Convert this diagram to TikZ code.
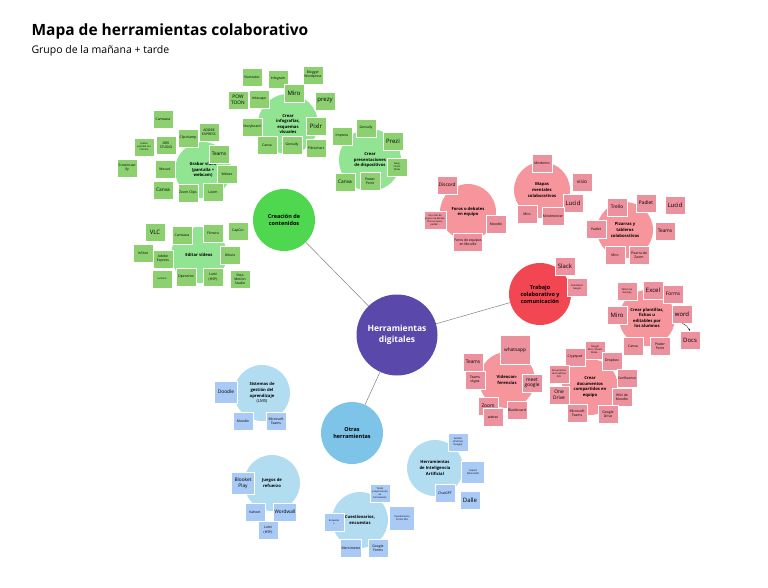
\documentclass[tikz,border=0pt]{standalone}
\usepackage{fontspec}
\setmainfont{Open Sans}
\usepackage{xcolor}
\usepackage{tikz}
\usetikzlibrary{positioning, arrows.meta}

\definecolor{hubc}{RGB}{90,72,170}
\definecolor{greencat}{RGB}{80,215,80}
\definecolor{greensub}{RGB}{145,228,145}
\definecolor{greennote}{RGB}{140,208,112}
\definecolor{redcat}{RGB}{242,70,82}
\definecolor{redsub}{RGB}{246,150,156}
\definecolor{rednote}{RGB}{236,145,158}
\definecolor{bluecat}{RGB}{125,196,232}
\definecolor{bluesub}{RGB}{178,221,240}
\definecolor{bluenote}{RGB}{168,202,244}

\begin{document}
\begin{tikzpicture}[
  x=1pt, y=-1pt,
  hub/.style={circle, fill=hubc, text=white, minimum size=81, inner sep=0,
              align=center, font=\fontsize{8.5}{11}\selectfont\bfseries},
  cat/.style={circle, fill=#1, minimum size=62, inner sep=0,
              align=center, font=\fontsize{5.5}{7}\selectfont\bfseries},
  sub/.style={circle, fill=#1, minimum size=56, inner sep=0,
              align=center, font=\fontsize{4.2}{5.6}\selectfont\bfseries},
  note/.style={draw=white, line width=0.4pt, rectangle, fill=#1, minimum width=20,
               minimum height=18, inner sep=1pt, align=center,
               font=\fontsize{3.4}{4.2}\selectfont},
  bnote/.style={note=#1, font=\fontsize{6}{7}\selectfont},
  mnote/.style={note=#1, font=\fontsize{4.8}{5.8}\selectfont},
  tnote/.style={note=#1, font=\fontsize{2.4}{3}\selectfont},
  link/.style={draw=gray, line width=0.5pt},
]
\useasboundingbox (0,0) rectangle (768,588);

%% Title
\node[anchor=west, font=\fontsize{15.5}{18}\selectfont\bfseries] (title) at (28,31)
  {Mapa de herramientas colaborativo};
\node[anchor=west, font=\fontsize{10.5}{12}\selectfont] (subtitle) at (28,51)
  {Grupo de la mañana + tarde};

%% Hub and categories
\node[hub] at (397,335) (hub) {Herramientas\\digitales};
\node[cat=greencat] at (284,220) (crea) {Creación de\\contenidos};
\node[cat=redcat]   at (540,294) (trab) {Trabajo\\colaborativo y\\comunicación};
\node[cat=bluecat]  at (352,433) (otras) {Otras\\herramientas};
\draw[link] (hub) -- (crea);
\draw[link] (hub) -- (trab);
\draw[link] (hub) -- (otras);

%% Crear infografias
\node[sub=greensub, minimum size=60] at (288,124) (info) {Crear\\infografías,\\esquemas\\visuales};
\node[note=greennote]  at (252,77)  (i1)  {Illustrator};
\node[note=greennote]  at (278,79)  (i2)  {Infogram};
\node[note=greennote]  at (313,75)  (i3)  {Blogger\\Wordpress};
\node[mnote=greennote] at (238,100) (i4)  {POW\\TOON};
\node[note=greennote]  at (259,99)  (i5)  {Inkscape};
\node[bnote=greennote] at (294,93)  (i6)  {Miro};
\node[bnote=greennote] at (325,101) (i7)  {prezy};
\node[note=greennote]  at (252,127) (i8)  {Storyboard};
\node[bnote=greennote] at (316,126) (i9)  {Pixlr};
\node[note=greennote]  at (267,145) (i10) {Canva};
\node[note=greennote]  at (292,145) (i11) {Genially};
\node[note=greennote]  at (316,148) (i12) {Piktochart};

%% Crear presentaciones
\node[sub=greensub, minimum size=62] at (370,160) (pres) {Crear\\presentaciones\\de dispositivos};
\node[note=greennote]  at (342,136) (p1) {Impress};
\node[note=greennote]  at (366,128) (p2) {Genially};
\node[bnote=greennote] at (393,141) (p3) {Prezi};
\node[tnote=greennote] at (397,167) (p4) {Sway\\Visme\\Slides};
\node[mnote=greennote] at (345,182) (p5) {Canva};
\node[note=greennote]  at (370,181) (p6) {Power\\Point};

%% Grabar video
\node[sub=greensub] at (203,170) (grab) {Grabar vídeo\\(pantalla +\\webcam)};
\node[note=greennote]  at (163,119) (g1)  {Camtasia};
\node[note=greennote]  at (209,132) (g2)  {ADOBE\\EXPRESS};
\node[note=greennote]  at (188,138) (g3)  {Clipchamp};
\node[note=greennote]  at (166,145) (g4)  {OBS\\STUDIO};
\node[tnote=greennote] at (144,147) (g5)  {Grabar\\pantalla con\\Chrome};
\node[note=greennote]  at (127,168) (g6)  {Screencast\\ify};
\node[note=greennote]  at (165,169) (g7)  {Movavi};
\node[mnote=greennote] at (219,154) (g8)  {Teams};
\node[note=greennote]  at (227,174) (g9)  {Webex};
\node[mnote=greennote] at (163,190) (g10) {Canva};
\node[note=greennote]  at (188,193) (g11) {Zoom Clips};
\node[note=greennote]  at (213,192) (g12) {Loom};

%% Editar videos
\node[sub=greensub] at (199,255) (edit) {Editar vídeos};
\node[bnote=greennote] at (155,232) (e1)  {VLC};
\node[note=greennote]  at (182,235) (e2)  {Camtasia};
\node[note=greennote]  at (213,233) (e3)  {Filmora};
\node[note=greennote]  at (238,231) (e4)  {CapCut};
\node[note=greennote]  at (143,253) (e5)  {InShot};
\node[note=greennote]  at (163,259) (e6)  {Adobe\\Express};
\node[note=greennote]  at (230,255) (e7)  {iMovie};
\node[tnote=greennote] at (162,279) (e8)  {Lumen5};
\node[note=greennote]  at (186,277) (e9)  {Openshot};
\node[note=greennote]  at (213,277) (e10) {Lumi\\(H5P)};
\node[note=greennote]  at (240,279) (e11) {Stop\\Motion\\Studio};

%% Foros
\node[sub=redsub] at (468,212) (foro) {Foros o debates\\en equipo};
\node[mnote=rednote] at (447,185) (f1) {Discord};
\node[tnote=rednote] at (435,220) (f2) {Uso chat de\\grupos de debate,\\foros propios,\\padlet...};
\node[note=rednote]  at (496,224) (f3) {Moodle};
\node[note=rednote]  at (468,242) (f4) {Foros de equipos\\en Moodle};

%% Mapas mentales
\node[sub=redsub] at (542,190) (mapa) {Mapas\\mentales\\colaborativos};
\node[note=rednote]  at (542,163) (m1) {Mindomo};
\node[mnote=rednote] at (582,182) (m2) {visio};
\node[bnote=rednote] at (573,203) (m3) {Lucid};
\node[note=rednote]  at (527,214) (m4) {Miro};
\node[note=rednote]  at (553,216) (m5) {Mindmeister};

%% Pizarras
\node[sub=redsub] at (625,230) (piza) {Pizarras y\\tableros\\colaborativos};
\node[mnote=rednote] at (617,207) (z1) {Trello};
\node[mnote=rednote] at (646,203) (z2) {Padlet};
\node[bnote=rednote] at (675,205) (z3) {Lucid};
\node[note=rednote]  at (596,229) (z4) {Padlet};
\node[mnote=rednote] at (665,231) (z5) {Teams};
\node[note=rednote]  at (615,255) (z6) {Miro};
\node[note=rednote]  at (639,255) (z7) {Pizarra de\\Zoom};

%% Trabajo notes
\node[bnote=rednote] at (565,266) (t1) {Slack};
\node[tnote=rednote] at (577,287) (t2) {Calendario\\Google};

%% Plantillas
\node[sub=redsub] at (647,318) (plan) {Crear plantillas,\\fichas u\\editables por\\los alumnos};
\node[tnote=rednote] at (627,291) (pl1) {Wizer.me\\Genially};
\node[bnote=rednote] at (653,290) (pl2) {Excel};
\node[mnote=rednote] at (673,294) (pl3) {Forms};
\node[bnote=rednote] at (617,315) (pl4) {Miro};
\node[bnote=rednote] at (682,314) (pl5) {word};
\node[bnote=rednote] at (690,340) (pl6) {Docs};
\node[note=rednote]  at (633,346) (pl7) {Canva};
\node[note=rednote]  at (660,346) (pl8) {Power\\Point};
\draw[-{Stealth[length=2pt]}, line width=0.3pt] (pl5.south) to[bend left=20] (pl6.north);

%% Videoconferencias
\node[sub=redsub] at (507,380) (vide) {Videocon-\\ferencias};
\node[mnote=rednote, minimum width=30, minimum height=29] at (515,350) (v1) {whatsapp};
\node[mnote=rednote] at (473,362) (v2) {Teams};
\node[note=rednote]  at (475,380) (v3) {Teams\\skype};
\node[mnote=rednote] at (532,383) (v4) {meet\\google};
\node[mnote=rednote] at (488,406) (v5) {Zoom};
\node[note=rednote]  at (493,417) (v6) {webex};
\node[note=rednote]  at (517,410) (v7) {Blackboard};

%% Documentos compartidos
\node[sub=redsub] at (590,387) (docu) {Crear\\documentos\\compartidos en\\equipo};
\node[tnote=rednote] at (595,350) (d1) {Google\\Docs, Sheets\\Slides...};
\node[note=rednote]  at (575,357) (d2) {Cryptpad};
\node[note=rednote]  at (612,361) (d3) {Dropbox};
\node[tnote=rednote] at (559,374) (d4) {Documentos\\de OneDrive\\365};
\node[note=rednote]  at (627,378) (d5) {Confluence};
\node[mnote=rednote] at (559,395) (d6) {One\\Drive};
\node[note=rednote]  at (622,397) (d7) {Wiki de\\Moodle};
\node[note=rednote]  at (577,413) (d8) {Microsoft\\Teams};
\node[note=rednote]  at (608,414) (d9) {Google\\Drive};

%% LMS
\node[sub=bluesub] at (262,393) (lms) {Sistemas de\\gestión del\\aprendizaje\\{\mdseries(LMS)}};
\node[mnote=bluenote, minimum width=23, minimum height=22] at (226,392) (l1) {Doodle};
\node[note=bluenote] at (243,421) (l2) {Moodle};
\node[note=bluenote] at (276,421) (l3) {Microsoft\\Teams};

%% Juegos
\node[sub=bluesub] at (272,483) (jueg) {Juegos de\\refuerzo};
\node[mnote=bluenote, minimum width=23, minimum height=22] at (243,483) (j1) {Blooket\\Play};
\node[note=bluenote]  at (255,512) (j2) {Kahoot};
\node[mnote=bluenote] at (285,512) (j3) {Wordwall};
\node[note=bluenote]  at (268,530) (j4) {Lumi\\(H5P)};

%% Cuestionarios
\node[sub=bluesub] at (360,520) (cues) {Cuestionarios,\\encuestas};
\node[tnote=bluenote] at (380,493) (c1) {Todos\\proporcionan\\en\\formularios};
\node[tnote=bluenote] at (334,522) (c2) {Encuesta\\s};
\node[tnote=bluenote, minimum width=25, minimum height=24] at (402,518) (c3) {Cuestionarios\\Forms 365};
\node[note=bluenote]  at (351,548) (c4) {Mentimeter};
\node[note=bluenote]  at (378,548) (c5) {Google\\Forms};

%% Inteligencia artificial
\node[sub=bluesub] at (435,468) (ia) {Herramientas\\de Inteligencia\\Artificial};
\node[tnote=bluenote] at (458,442) (a1) {Gemini\\(Android,\\Google)};
\node[tnote=bluenote, minimum width=23, minimum height=22] at (473,472) (a2) {Copilot\\(Microsoft)};
\node[note=bluenote]  at (445,493) (a3) {ChatGPT};
\node[bnote=bluenote] at (470,500) (a4) {Dalle};
\end{tikzpicture}
\end{document}
